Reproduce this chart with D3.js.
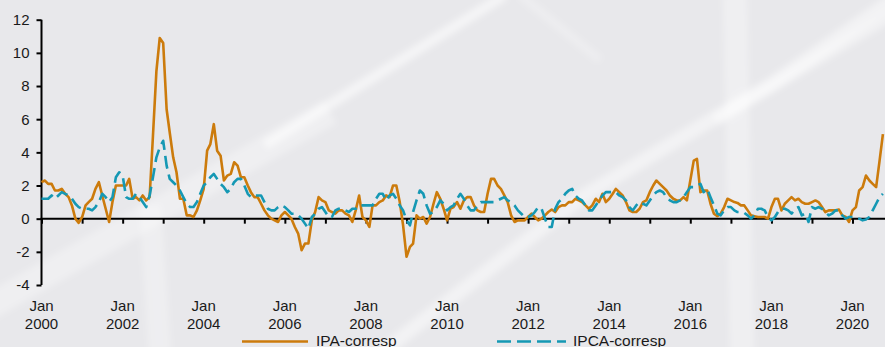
<!DOCTYPE html>
<html>
<head>
<meta charset="utf-8">
<script src="https://cdn.jsdelivr.net/npm/d3@7/dist/d3.min.js"></script>
<style>
  html, body { margin: 0; padding: 0; background: #e8e8eb; }
  svg { display: block; }
  text { font-family: "Liberation Sans", Arial, sans-serif; fill: #1a1a1a; }
</style>
</head>
<body>
<svg id="chart" width="885" height="347"></svg>
<script>
// Monthly series, starting January 2000
const startYear = 2000;

const ipa = [
  2.2, 2.3, 2.1, 2.1, 1.7, 1.7, 1.8, 1.5, 1.3, 0.8, 0.0, -0.25,
  0.1, 0.8, 1.0, 1.2, 1.8, 2.2, 1.4, 0.6, -0.2, 1.0, 2.0, 2.0,
  2.0, 2.0, 2.4, 1.2, 1.3, 1.1, 1.4, 1.1, 1.3, 5.0, 8.9, 10.9,
  10.6, 6.6, 5.2, 3.7, 2.8, 1.2, 1.2, 0.2, 0.2, 0.1, 0.5, 1.1,
  1.8, 4.1, 4.5, 5.7, 4.1, 3.8, 2.3, 2.6, 2.7, 3.4, 3.2, 2.5,
  2.5, 2.0, 1.6, 1.3, 1.3, 0.9, 0.5, 0.2, 0.0, -0.1, -0.2, 0.2,
  0.4, 0.2, 0.0, -0.5, -0.9, -1.9, -1.5, -1.5, -0.1, 0.4, 1.3, 1.1,
  1.0, 0.5, 0.4, 0.3, 0.5, 0.5, 0.3, 0.2, -0.2, 0.5, 1.4, 0.1,
  -0.1, -0.5, 0.8, 0.8, 1.0, 1.1, 1.4, 1.3, 2.0, 2.0, 1.0, -0.4,
  -2.3, -1.7, -1.5, 0.2, 0.0, 0.1, -0.3, 0.1, 0.9, 1.6, 1.2, 0.6,
  -0.1, 0.6, 0.7, 1.0, 0.6, 1.1, 1.3, 1.3, 0.8, 0.5, 0.4, 0.4,
  1.5, 2.4, 2.4, 2.0, 1.8, 1.4, 1.0, 0.2, -0.2, -0.1, -0.1, -0.1,
  0.1, 0.3, 0.1, -0.1, 0.0, 0.2, 0.4, 0.55, 0.4, 0.7, 0.8, 0.8,
  1.0, 1.0, 1.2, 1.1, 1.0, 0.8, 0.6, 0.8, 1.2, 1.0, 1.5, 1.0,
  1.2, 1.5, 1.8, 1.6, 1.4, 1.0, 0.5, 0.4, 0.4, 0.6, 1.0, 1.1,
  1.6, 2.0, 2.3, 2.1, 1.9, 1.7, 1.4, 1.2, 1.1, 1.1, 1.3, 1.1,
  2.3, 3.5, 3.6, 1.6, 1.7, 1.7, 0.9, 0.3, 0.15, 0.3, 0.7, 1.2,
  1.1, 1.0, 0.95, 0.8, 0.8, 0.5, 0.2, 0.15, 0.1, 0.1, 0.1, 0.0,
  0.7, 1.2, 1.2, 0.5, 0.9, 1.1, 1.3, 1.1, 1.2, 1.0, 0.9, 0.9,
  1.0, 1.1, 1.0, 0.7, 0.4, 0.5, 0.5, 0.5, 0.55, 0.2, 0.1, -0.2,
  0.5, 0.7, 1.7, 1.9, 2.6, 2.3, 2.1, 1.9, 3.5, 5.1
];

const ipca = [
  1.2, 1.2, 1.2, 1.4, 1.2, 1.4, 1.6, 1.5, 1.4, 1.2, 0.9, 0.7,
  0.6, 0.6, 0.6, 0.5, 0.7, 1.0, 1.5, 1.3, 1.0, 1.3, 2.5, 2.8,
  2.6, 1.3, 1.2, 1.2, 1.5, 1.3, 1.0, 0.7, 1.4, 2.5, 3.7, 4.3,
  4.7, 3.2, 2.4, 2.2, 2.0, 1.7, 1.3, 0.9, 0.7, 0.7, 1.0, 1.5,
  2.0, 2.2, 2.5, 2.7, 2.4, 2.1, 1.9, 1.6, 1.8, 2.2, 2.4, 2.4,
  2.0, 1.5, 1.3, 1.4, 1.4, 1.4, 1.0, 0.6, 0.5, 0.5, 0.7, 0.8,
  0.7, 0.5, 0.3, 0.3, 0.2, 0.0, -0.3, -0.6, 0.1, 0.3, 0.6, 0.7,
  0.4, 0.1, 0.1, 0.5, 0.6, 0.6, 0.5, 0.4, 0.6, 0.6, 0.8, 0.8,
  0.8, 0.8, 0.8, 1.2, 1.5, 1.5, 1.1, 1.4, 1.5, 1.2, 0.8, 0.5,
  -0.1, -0.4, 0.4, 1.1, 1.7, 1.5, 0.8, 0.3, 0.4, 0.7, 1.1, 0.9,
  0.5, 0.7, 0.8, 1.2, 1.5, 1.2, 0.8, 0.5, 0.5, 0.8, 1.0, 1.0,
  1.0, 1.0, 1.0, 1.1, 1.2, 1.3, 1.1, 1.0, 0.8, 0.5, 0.3, 0.1,
  0.1, 0.2, 0.4, 0.7, 0.6, 0.0, -0.5, -0.5, 0.6, 1.0, 1.2, 1.5,
  1.7, 1.8, 1.4, 1.2, 1.1, 0.8, 0.5, 0.5, 0.8, 1.1, 1.4, 1.6,
  1.6, 1.6, 1.6, 1.4, 1.3, 1.1, 0.7, 0.5, 0.8, 1.0, 0.9, 0.8,
  1.1, 1.4, 1.6, 1.7, 1.6, 1.3, 1.1, 1.0, 1.0, 1.1, 1.3, 1.6,
  1.9, 1.9, 2.0, 2.1, 1.6, 1.8, 1.3, 0.8, 0.3, 0.2, 0.5, 0.7,
  0.7, 0.5, 0.4, 0.4, 0.35, 0.2, 0.0, 0.2, 0.6, 0.6, 0.5, 0.1,
  -0.1, 0.1, 0.4, 0.6, 0.6, 0.5, 0.3, 0.6, 0.7, 0.2, 0.3, -0.2,
  0.7, 0.6, 0.7, 0.6, 0.4, 0.2, 0.3, 0.5, 0.5, 0.2, 0.0, 0.1,
  0.1, 0.0, 0.0, -0.1, -0.05, 0.1, 0.5, 0.9, 1.3, 1.5
];

const yTicks = [-4, -2, 0, 2, 4, 6, 8, 10, 12];
const labelYears = [2000, 2002, 2004, 2006, 2008, 2010, 2012, 2014, 2016, 2018, 2020];
const seriesNames = ["IPA-corresp", "IPCA-corresp"];

const W = 885, H = 347;
const colors = { ipa: "#cc7b0c", ipca: "#1598b4" };

const svg = d3.select("#chart");

// Soft light streaks across the backdrop
const defs = svg.append("defs");
defs.append("filter").attr("id", "soft")
  .append("feGaussianBlur").attr("stdDeviation", 3);
defs.append("clipPath").attr("id", "plotClip")
  .append("rect").attr("x", 0).attr("y", 0).attr("width", W).attr("height", H);

const bg = svg.append("g").attr("filter", "url(#soft)");
const streaks = [
  { pts: [[-20, 312], [330, 112]], w: 26, o: 0.30 },
  { pts: [[265, 145], [505, -5]], w: 10, o: 0.55 },
  { pts: [[385, 350], [585, 195], [770, 85], [900, -5]], w: 14, o: 0.45 },
  { pts: [[715, 120], [900, 10]], w: 12, o: 0.40 },
  { pts: [[735, -5], [742, 352]], w: 24, o: 0.32 },
  { pts: [[150, 205], [160, 352]], w: 22, o: 0.28 },
  { pts: [[520, -5], [600, 60]], w: 8, o: 0.25 }
];
streaks.forEach(s => {
  bg.append("path")
    .attr("d", d3.line()(s.pts))
    .attr("fill", "none")
    .attr("stroke", "#ffffff")
    .attr("stroke-opacity", s.o)
    .attr("stroke-width", s.w)
    .attr("stroke-linecap", "butt");
});

// Scales
const x = d3.scaleTime()
  .domain([new Date(startYear, 0, 1), new Date(2020, 0, 1)])
  .range([41.5, 852.5]);
const y = d3.scaleLinear().domain([-4, 12]).range([285, 19.7]);

const dateOf = i => new Date(startYear, i, 1);

// Y axis (plain hyphen for negatives)
const yAxis = svg.append("g")
  .attr("transform", "translate(41.5,0)")
  .call(d3.axisLeft(y).tickValues(yTicks).tickSize(5).tickPadding(7).tickFormat(d => String(d)));
yAxis.select(".domain").attr("stroke", "#000").attr("stroke-width", 2)
  .attr("d", `M0,${y(-4)}V${y(12)}`);
yAxis.selectAll(".tick line").attr("stroke", "#000").attr("stroke-width", 2);
yAxis.selectAll(".tick text")
  .style("font-family", '"Liberation Sans", Arial, sans-serif')
  .style("font-size", "15px").attr("fill", "#1a1a1a");

// X axis on the zero line, yearly ticks
const yearTicks = d3.timeYear.range(new Date(startYear, 0, 1), new Date(2020, 1, 1));
const xAxis = svg.append("g")
  .attr("transform", `translate(0,${y(0)})`)
  .call(d3.axisBottom(x).tickValues(yearTicks).tickSize(5).tickFormat(""));
xAxis.select(".domain").remove();
xAxis.selectAll(".tick line").attr("stroke", "#000").attr("stroke-width", 2);
svg.append("line")
  .attr("x1", 40.5).attr("x2", W)
  .attr("y1", y(0)).attr("y2", y(0))
  .attr("stroke", "#000").attr("stroke-width", 2);

// Two-line date labels under the axis
const lbl = svg.append("g");
labelYears.forEach(yr => {
  const t = lbl.append("text")
    .attr("x", x(new Date(yr, 0, 1)))
    .attr("text-anchor", "middle")
    .style("font-size", "15px");
  t.append("tspan").attr("x", x(new Date(yr, 0, 1))).attr("y", 311).text("Jan");
  t.append("tspan").attr("x", x(new Date(yr, 0, 1))).attr("y", 328.5).text(yr);
});

// Series lines
const line = d3.line()
  .x((d, i) => x(dateOf(i)))
  .y(d => y(d));

const plot = svg.append("g").attr("clip-path", "url(#plotClip)");
plot.append("path")
  .datum(ipa)
  .attr("d", line)
  .attr("fill", "none")
  .attr("stroke", colors.ipa)
  .attr("stroke-width", 2.6)
  .attr("stroke-linejoin", "round");
plot.append("path")
  .datum(ipca)
  .attr("d", line)
  .attr("fill", "none")
  .attr("stroke", colors.ipca)
  .attr("stroke-width", 2.6)
  .attr("stroke-dasharray", "13,6")
  .attr("stroke-linejoin", "round");

// Legend along the bottom edge
const legend = svg.append("g");
const legendItems = [
  { name: seriesNames[0], color: colors.ipa, dash: null, x0: 242, x1: 308, tx: 316 },
  { name: seriesNames[1], color: colors.ipca, dash: "14,6", x0: 497, x1: 566, tx: 573 }
];
legendItems.forEach(it => {
  legend.append("line")
    .attr("x1", it.x0).attr("x2", it.x1)
    .attr("y1", 341.5).attr("y2", 341.5)
    .attr("stroke", it.color).attr("stroke-width", 2.6)
    .attr("stroke-dasharray", it.dash);
  legend.append("text")
    .attr("x", it.tx).attr("y", 345.5)
    .style("font-size", "15.5px")
    .text(it.name);
});
</script>
</body>
</html>
